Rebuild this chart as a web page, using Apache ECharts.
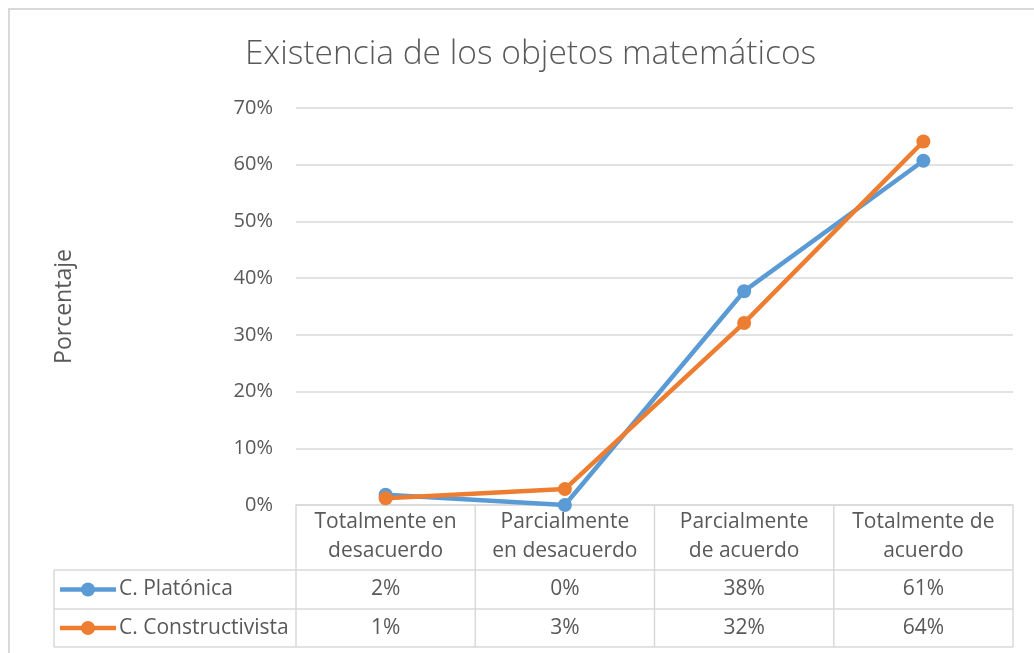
<!DOCTYPE html>
<html>
<head>
<meta charset="utf-8">
<script src="https://cdn.jsdelivr.net/npm/echarts@6/dist/echarts.min.js"></script>
<style>
  html, body { margin: 0; padding: 0; background: #fff; }
  #chart { width: 1034px; height: 653px; }
</style>
</head>
<body>
<div id="chart"></div>
<script>
// Survey answers, share of respondents per level of agreement
const categories = ['Totalmente en\ndesacuerdo', 'Parcialmente\nen desacuerdo', 'Parcialmente\nde acuerdo', 'Totalmente de\nacuerdo'];
const seriesNames = ['C. Platónica', 'C. Constructivista'];
const platonica = [0.018, 0.0, 0.377, 0.607];
const constructivista = [0.012, 0.028, 0.321, 0.641];
const yTicks = [0, 0.1, 0.2, 0.3, 0.4, 0.5, 0.6, 0.7];

const colors = ['#5b9bd5', '#ed7d31'];
const textColor = '#595959';
const ruleColor = '#d9d9d9';
const font = 'Open Sans';
const tableFontSize = 21;

const grid = { left: 296, right: 21, top: 108, bottom: 148 };
const W = 1034, H = 653;
const plotRight = W - grid.right;
const axisY = H - grid.bottom;
const headerBottom = 570;
const rowBottoms = [609, 647];
const legendLeft = 54;

const pct = v => Math.round(v * 100) + '%';

const chart = echarts.init(document.getElementById('chart'), null, { renderer: 'canvas' });

const option = {
  animation: false,
  backgroundColor: '#fff',
  textStyle: { fontFamily: font, color: textColor },
  title: {
    text: 'Existencia de los objetos matemáticos',
    left: 240,
    top: 32,
    textStyle: { fontFamily: font, fontWeight: 300, fontSize: 33.5, color: textColor }
  },
  grid: grid,
  xAxis: {
    type: 'category',
    data: categories,
    boundaryGap: true,
    axisLine: { show: true, lineStyle: { color: ruleColor, width: 1.5 } },
    axisTick: { show: false },
    axisLabel: {
      margin: 3, fontSize: tableFontSize, lineHeight: 29, color: textColor, fontFamily: font,
      interval: 0, verticalAlign: 'top'
    }
  },
  yAxis: {
    type: 'value',
    min: yTicks[0], max: yTicks[yTicks.length - 1], interval: 0.1,
    name: 'Porcentaje',
    nameLocation: 'middle',
    nameGap: 220,
    nameRotate: 90,
    nameTextStyle: { fontSize: 23, color: textColor, fontFamily: font },
    axisLine: { show: false },
    axisTick: { show: false },
    splitLine: { lineStyle: { color: ruleColor, width: 1.5 } },
    axisLabel: {
      margin: 23, fontSize: 20, color: textColor, fontFamily: font,
      formatter: v => pct(v)
    }
  },
  series: [
    {
      name: seriesNames[0], type: 'line', data: platonica,
      symbol: 'circle', symbolSize: 14,
      lineStyle: { width: 4.5, color: colors[0] },
      itemStyle: { color: colors[0] }
    },
    {
      name: seriesNames[1], type: 'line', data: constructivista,
      symbol: 'circle', symbolSize: 14,
      lineStyle: { width: 4.5, color: colors[1] },
      itemStyle: { color: colors[1] }
    }
  ]
};
chart.setOption(option);

// Data table under the plot: grid lines, legend keys and values
const values = [platonica, constructivista];
const g = [];
const lineStyle = { stroke: ruleColor, lineWidth: 1.5 };
const tableFont = tableFontSize + 'px "' + font + '"';

// outer chart frame
g.push({ type: 'rect', shape: { x: 9, y: 9, width: W + 10, height: H + 10 }, style: { fill: null, stroke: ruleColor, lineWidth: 2 }, silent: true });

const bounds = [];
for (let i = 0; i <= categories.length; i++) {
  bounds.push(grid.left + (plotRight - grid.left) * i / categories.length);
}
// vertical rules of the header row and value rows
bounds.forEach(x => {
  g.push({ type: 'line', shape: { x1: x, y1: axisY, x2: x, y2: rowBottoms[1] }, style: lineStyle, silent: true });
});
g.push({ type: 'line', shape: { x1: legendLeft, y1: headerBottom, x2: legendLeft, y2: rowBottoms[1] }, style: lineStyle, silent: true });
// horizontal rules
g.push({ type: 'line', shape: { x1: legendLeft, y1: headerBottom, x2: plotRight, y2: headerBottom }, style: lineStyle, silent: true });
rowBottoms.forEach(y => {
  g.push({ type: 'line', shape: { x1: legendLeft, y1: y, x2: plotRight, y2: y }, style: lineStyle, silent: true });
});

const rowTops = [headerBottom, rowBottoms[0]];
seriesNames.forEach((name, s) => {
  const cy = (rowTops[s] + rowBottoms[s]) / 2;
  // legend key
  g.push({ type: 'line', shape: { x1: 60, y1: cy, x2: 116, y2: cy }, style: { stroke: colors[s], lineWidth: 4.5 }, silent: true });
  g.push({ type: 'circle', shape: { cx: 88, cy: cy, r: 7 }, style: { fill: colors[s] }, silent: true });
  g.push({ type: 'text', x: 119, y: cy, style: { text: name, font: tableFont, fill: textColor, align: 'left', verticalAlign: 'middle' }, silent: true });
  // values
  values[s].forEach((v, i) => {
    const cx = chart.convertToPixel({ xAxisIndex: 0 }, i);
    g.push({ type: 'text', x: cx, y: cy, style: { text: pct(v), font: tableFont, fill: textColor, align: 'center', verticalAlign: 'middle' }, silent: true });
  });
});

chart.setOption({ graphic: g });
</script>
</body>
</html>
